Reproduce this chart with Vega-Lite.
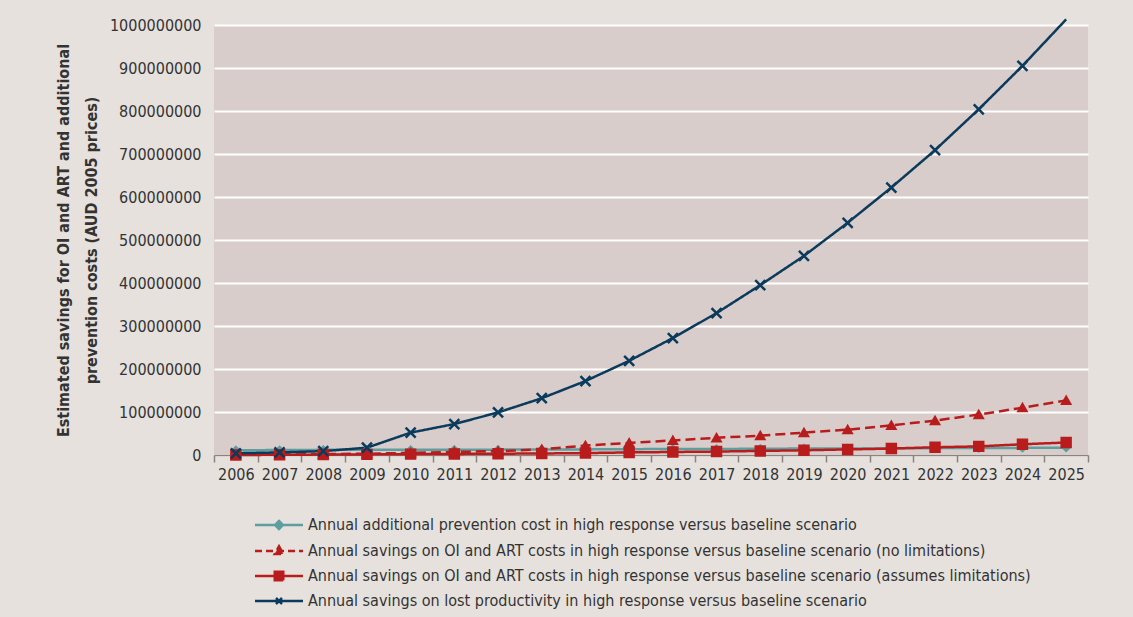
{
  "$schema": "https://vega.github.io/schema/vega-lite/v6.json",
  "width": 874,
  "height": 430,
  "autosize": "none",
  "padding": {"left": 214, "top": 25, "right": 45, "bottom": 162},
  "background": "#e6e1dd",
  "config": {
    "view": {"fill": "#d8cdca", "stroke": null},
    "font": "'DejaVu Sans Condensed', Roboto, sans-serif",
    "axis": {
      "labelFont": "'DejaVu Sans Condensed', Roboto, sans-serif",
      "titleFont": "'DejaVu Sans Condensed', Roboto, sans-serif",
      "labelColor": "#333333",
      "titleColor": "#333333",
      "labelFontSize": 16,
      "domainColor": "#8d827e",
      "tickColor": "#8d827e"
    },
    "legend": {"padding": 0}
  },
  "datasets": {
    "d": [
      {"year": "2006", "series": "A", "value": 11000000},
      {"year": "2007", "series": "A", "value": 11500000},
      {"year": "2008", "series": "A", "value": 12000000},
      {"year": "2009", "series": "A", "value": 12000000},
      {"year": "2010", "series": "A", "value": 12000000},
      {"year": "2011", "series": "A", "value": 12500000},
      {"year": "2012", "series": "A", "value": 12500000},
      {"year": "2013", "series": "A", "value": 13000000},
      {"year": "2014", "series": "A", "value": 13000000},
      {"year": "2015", "series": "A", "value": 13500000},
      {"year": "2016", "series": "A", "value": 14000000},
      {"year": "2017", "series": "A", "value": 14000000},
      {"year": "2018", "series": "A", "value": 14500000},
      {"year": "2019", "series": "A", "value": 15000000},
      {"year": "2020", "series": "A", "value": 15000000},
      {"year": "2021", "series": "A", "value": 15500000},
      {"year": "2022", "series": "A", "value": 16000000},
      {"year": "2023", "series": "A", "value": 16000000},
      {"year": "2024", "series": "A", "value": 16500000},
      {"year": "2025", "series": "A", "value": 17000000},
      {"year": "2006", "series": "B", "value": 500000},
      {"year": "2007", "series": "B", "value": 1000000},
      {"year": "2008", "series": "B", "value": 2000000},
      {"year": "2009", "series": "B", "value": 3000000},
      {"year": "2010", "series": "B", "value": 5000000},
      {"year": "2011", "series": "B", "value": 7000000},
      {"year": "2012", "series": "B", "value": 9000000},
      {"year": "2013", "series": "B", "value": 13000000},
      {"year": "2014", "series": "B", "value": 22000000},
      {"year": "2015", "series": "B", "value": 28000000},
      {"year": "2016", "series": "B", "value": 34000000},
      {"year": "2017", "series": "B", "value": 40000000},
      {"year": "2018", "series": "B", "value": 45000000},
      {"year": "2019", "series": "B", "value": 52000000},
      {"year": "2020", "series": "B", "value": 59000000},
      {"year": "2021", "series": "B", "value": 69000000},
      {"year": "2022", "series": "B", "value": 80000000},
      {"year": "2023", "series": "B", "value": 94000000},
      {"year": "2024", "series": "B", "value": 110000000},
      {"year": "2025", "series": "B", "value": 127000000},
      {"year": "2006", "series": "C", "value": 0},
      {"year": "2007", "series": "C", "value": 500000},
      {"year": "2008", "series": "C", "value": 1000000},
      {"year": "2009", "series": "C", "value": 1500000},
      {"year": "2010", "series": "C", "value": 2000000},
      {"year": "2011", "series": "C", "value": 2500000},
      {"year": "2012", "series": "C", "value": 3000000},
      {"year": "2013", "series": "C", "value": 3500000},
      {"year": "2014", "series": "C", "value": 4500000},
      {"year": "2015", "series": "C", "value": 6000000},
      {"year": "2016", "series": "C", "value": 7000000},
      {"year": "2017", "series": "C", "value": 8000000},
      {"year": "2018", "series": "C", "value": 9500000},
      {"year": "2019", "series": "C", "value": 11000000},
      {"year": "2020", "series": "C", "value": 13000000},
      {"year": "2021", "series": "C", "value": 15000000},
      {"year": "2022", "series": "C", "value": 18000000},
      {"year": "2023", "series": "C", "value": 20000000},
      {"year": "2024", "series": "C", "value": 25000000},
      {"year": "2025", "series": "C", "value": 29000000},
      {"year": "2006", "series": "D", "value": 4000000},
      {"year": "2007", "series": "D", "value": 6000000},
      {"year": "2008", "series": "D", "value": 9000000},
      {"year": "2009", "series": "D", "value": 17000000},
      {"year": "2010", "series": "D", "value": 52000000},
      {"year": "2011", "series": "D", "value": 72000000},
      {"year": "2012", "series": "D", "value": 99000000},
      {"year": "2013", "series": "D", "value": 132000000},
      {"year": "2014", "series": "D", "value": 172000000},
      {"year": "2015", "series": "D", "value": 219000000},
      {"year": "2016", "series": "D", "value": 272000000},
      {"year": "2017", "series": "D", "value": 330000000},
      {"year": "2018", "series": "D", "value": 395000000},
      {"year": "2019", "series": "D", "value": 463000000},
      {"year": "2020", "series": "D", "value": 540000000},
      {"year": "2021", "series": "D", "value": 622000000},
      {"year": "2022", "series": "D", "value": 709000000},
      {"year": "2023", "series": "D", "value": 804000000},
      {"year": "2024", "series": "D", "value": 905000000},
      {"year": "2025", "series": "D", "value": 1013000000}
    ]
  },
  "data": {"name": "d"},
  "transform": [
    {"lookup": "series", "from": {"data": {"values": [
      {"series": "A", "label": "Annual additional prevention cost in high response versus baseline scenario"},
      {"series": "B", "label": "Annual savings on OI and ART costs in high response versus baseline scenario (no limitations)"},
      {"series": "C", "label": "Annual savings on OI and ART costs in high response versus baseline scenario (assumes limitations)"},
      {"series": "D", "label": "Annual savings on lost productivity in high response versus baseline scenario"}
    ]}, "key": "series", "fields": ["label"]}}
  ],
  "encoding": {
    "x": {
      "field": "year", "type": "ordinal",
      "scale": {"type": "band", "paddingInner": 0, "paddingOuter": 0},
      "axis": {"title": null, "labelAngle": 0, "tickBand": "extent", "tickSize": 7, "domainWidth": 1.5, "tickWidth": 1.5, "labelPadding": 4, "grid": false}
    },
    "y": {
      "field": "value", "type": "quantitative",
      "scale": {"domain": [0, 1000000000], "nice": false},
      "axis": {
        "title": ["Estimated savings for OI and ART and additional", "prevention costs (AUD 2005 prices)"],
        "titleFontSize": 16, "titleFontWeight": "bold", "titlePadding": 10, "titleLineHeight": 28,
        "format": "d", "tickCount": 10, "domain": false, "ticks": false, "labelPadding": 13,
        "grid": true, "gridColor": "#ffffff", "gridWidth": 2
      }
    }
  },
  "layer": [
    {
      "mark": {"type": "line", "strokeWidth": 2.5, "clip": false},
      "encoding": {
        "color": {
          "field": "label", "type": "nominal",
          "scale": {
            "domain": [
              "Annual additional prevention cost in high response versus baseline scenario",
              "Annual savings on OI and ART costs in high response versus baseline scenario (no limitations)",
              "Annual savings on OI and ART costs in high response versus baseline scenario (assumes limitations)",
              "Annual savings on lost productivity in high response versus baseline scenario"
            ],
            "range": ["#5e9e9e", "#b81c1c", "#b81c1c", "#0b3b5c"]
          },
          "legend": {
            "title": null, "orient": "none", "legendX": 57, "legendY": 492, "direction": "vertical",
            "symbolSize": 100, "symbolStrokeWidth": 2.5, "labelFontSize": 16, "labelColor": "#333333",
            "labelFont": "'DejaVu Sans Condensed', Roboto, sans-serif", "labelLimit": 1000, "labelOffset": 21, "rowPadding": 7,
            "encode": {
              "symbols": {
                "update": {
                  "shape": {"signal": "datum.index === 0 ? 'M-4.8,0H4.8M0,-0.8L0.8,0L0,0.8L-0.8,0Z' : datum.index === 1 ? 'M-4.8,0H4.8M0,-0.95L0.85,0.6L-0.85,0.6Z' : datum.index === 2 ? 'M-4.8,0H4.8M-0.85,-0.85H0.85V0.85H-0.85Z' : 'M-4.8,0H4.8M-0.6,-0.6L0.6,0.6M0.6,-0.6L-0.6,0.6'"},
                  "fill": {"signal": "scale('color', datum.value)"},
                  "stroke": {"signal": "scale('color', datum.value)"},
                  "strokeDash": {"signal": "datum.index === 1 ? [7, 4] : [1, 0]"},
                  "opacity": {"value": 1}
                }
              }
            }
          }
        },
        "strokeDash": {
          "field": "series", "type": "nominal",
          "scale": {"domain": ["A", "B", "C", "D"], "range": [[1, 0], [10, 5], [1, 0], [1, 0]]},
          "legend": null
        }
      }
    },
    {
      "transform": [{"filter": "datum.value <= 1000000000"}],
      "mark": {"type": "point", "filled": true, "opacity": 1, "strokeWidth": 2.5},
      "encoding": {
        "shape": {
          "field": "series", "type": "nominal",
          "scale": {"domain": ["A", "B", "C", "D"], "range": ["diamond", "triangle-up", "square", "M-1,-1L1,1M1,-1L-1,1"]},
          "legend": null
        },
        "fill": {
          "field": "series", "type": "nominal",
          "scale": {"domain": ["A", "B", "C", "D"], "range": ["#5e9e9e", "#b81c1c", "#b81c1c", "transparent"]},
          "legend": null
        },
        "stroke": {
          "field": "series", "type": "nominal",
          "scale": {"domain": ["A", "B", "C", "D"], "range": ["#5e9e9e", "#b81c1c", "#b81c1c", "#0b3b5c"]},
          "legend": null
        },
        "size": {
          "field": "series", "type": "nominal",
          "scale": {"domain": ["A", "B", "C", "D"], "range": [40, 100, 70, 80]},
          "legend": null
        }
      }
    }
  ]
}
